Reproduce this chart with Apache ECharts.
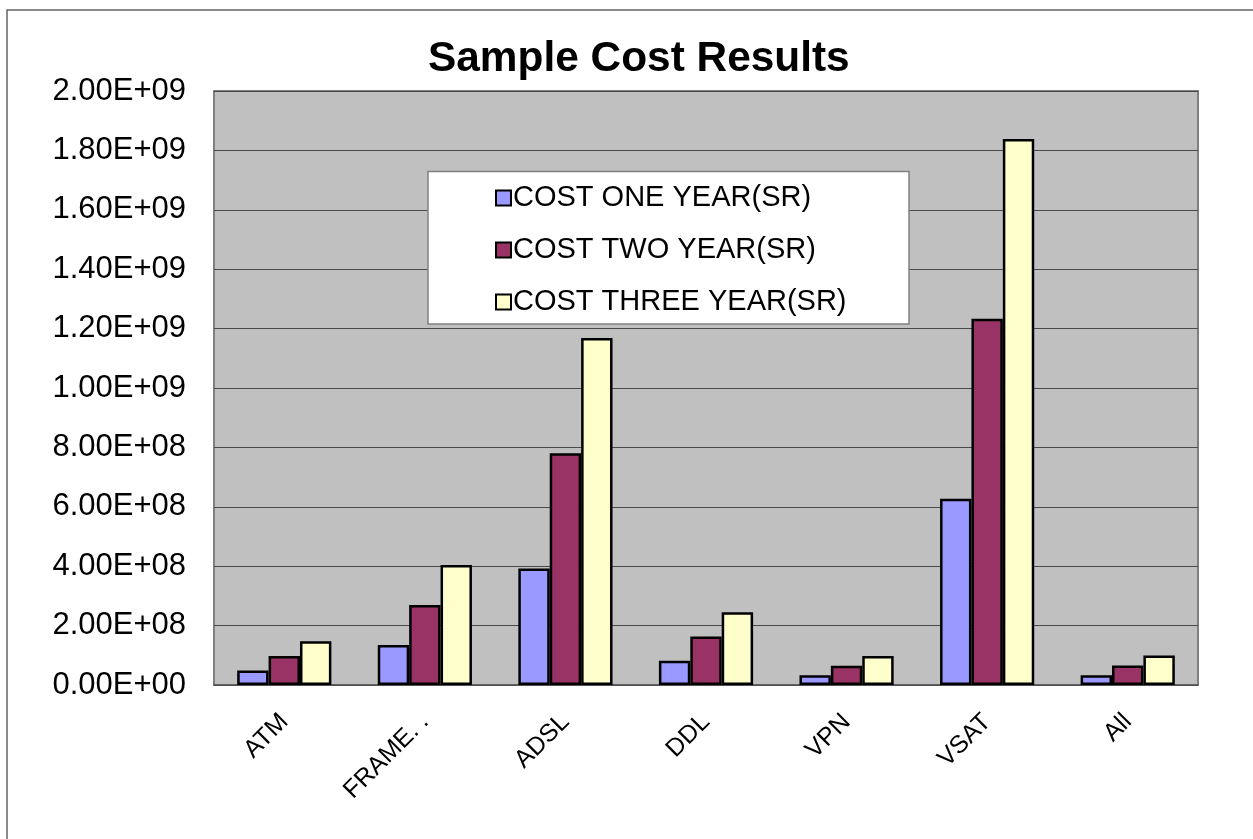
<!DOCTYPE html>
<html>
<head>
<meta charset="utf-8">
<style>
  html, body { margin: 0; padding: 0; background: #fff; }
  #chart { width: 1253px; height: 839px; }
</style>
<script src="https://cdn.jsdelivr.net/npm/echarts@6/dist/echarts.min.js"></script>
</head>
<body>
<div id="chart"></div>
<script>
// Network types on the category axis
const categories = ['ATM', 'FRAME. .', 'ADSL', 'DDL', 'VPN', 'VSAT', 'All'];

// Cost per network type, in SR
const costOneYear   = [4.9e7, 1.35e8, 3.92e8, 8.2e7, 3.3e7, 6.27e8, 3.3e7];
const costTwoYear   = [9.8e7, 2.69e8, 7.80e8, 1.63e8, 6.5e7, 1.233e9, 6.6e7];
const costThreeYear = [1.47e8, 4.04e8, 1.168e9, 2.45e8, 9.8e7, 1.838e9, 9.9e7];

const seriesNames = ['COST ONE YEAR(SR)', 'COST TWO YEAR(SR)', 'COST THREE YEAR(SR)'];
const seriesColors = ['#9999FF', '#993366', '#FFFFCC'];

// Value-axis ticks
const yMin = 0, yMax = 2e9, yStep = 2e8;

// Scientific label like 2.00E+09
function sci(v) {
  if (v === 0) return '0.00E+00';
  const e = Math.floor(Math.log10(Math.abs(v)));
  const m = v / Math.pow(10, e);
  const es = (e < 0 ? '-' : '+') + String(Math.abs(e)).padStart(2, '0');
  return m.toFixed(2) + 'E' + es;
}

const FONT = 'Liberation Sans, Arial, sans-serif';
const chart = echarts.init(document.getElementById('chart'), null, { renderer: 'canvas' });

const data = [costOneYear, costTwoYear, costThreeYear];

chart.setOption({
  animation: false,
  backgroundColor: '#ffffff',
  title: {
    text: 'Sample Cost Results',
    left: 423,
    top: 33,
    textStyle: { fontFamily: FONT, fontSize: 42.4, fontWeight: 'bold', color: '#000' }
  },
  graphic: [
    {
      type: 'rect',
      shape: { x: 7, y: 10, width: 1320, height: 900 },
      style: { fill: 'none', stroke: '#666', lineWidth: 1.5 },
      silent: true
    },
    {
      type: 'rect',
      shape: { x: 428, y: 171.5, width: 481, height: 152.5 },
      style: { fill: '#ffffff', stroke: '#808080', lineWidth: 1.5 },
      z: 10,
      silent: true
    }
  ],
  legend: {
    left: 490,
    top: 178,
    orient: 'vertical',
    itemWidth: 15,
    itemHeight: 15,
    itemGap: 22,
    z: 11,
    icon: 'rect',
    textStyle: { fontFamily: FONT, fontSize: 29, color: '#000', lineHeight: 30, padding: [0, 0, 0, -3] },
    data: seriesNames
  },
  grid: {
    left: 214,
    right: 55,
    top: 91,
    bottom: 154,
    show: true,
    backgroundColor: '#C0C0C0',
    borderColor: '#808080',
    borderWidth: 2
  },
  xAxis: {
    type: 'category',
    data: categories,
    axisLine: { lineStyle: { color: '#555', width: 1.5 } },
    axisTick: { show: false },
    axisLabel: {
      rotate: 45,
      margin: 33,
      fontFamily: FONT,
      fontSize: 25,
      color: '#000',
      interval: 0
    }
  },
  yAxis: {
    type: 'value',
    min: yMin,
    max: yMax,
    interval: yStep,
    axisLine: { show: false },
    axisTick: { show: false },
    splitLine: { lineStyle: { color: '#4a4a4a', width: 1 } },
    axisLabel: {
      margin: 28,
      fontFamily: FONT,
      fontSize: 31,
      color: '#000',
      formatter: sci
    }
  },
  series: seriesNames.map((name, i) => ({
    name: name,
    type: 'bar',
    data: data[i],
    barGap: '0%',
    barCategoryGap: '33%',
    itemStyle: { color: seriesColors[i], borderColor: '#000', borderWidth: 2.5 }
  }))
});
</script>
</body>
</html>
